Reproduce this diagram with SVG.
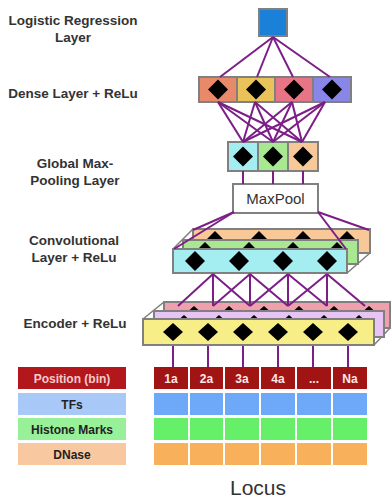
<svg xmlns="http://www.w3.org/2000/svg" width="392" height="498" viewBox="0 0 392 498">
  <style>
    .lbl { font-family: "Liberation Sans", Arial, sans-serif; font-weight: bold; font-size: 13.5px; fill: #333; text-anchor: middle; }
    .cell { stroke: #808080; stroke-width: 2; }
    .dia { fill: #000; }
    .wire { fill: #fff; stroke: #808080; stroke-width: 1.5; }
    .conn line { stroke: #7b1f87; stroke-width: 2; }
    .tag { font-family: "Liberation Sans", Arial, sans-serif; font-weight: bold; font-size: 12px; text-anchor: middle; }
  </style>
  <defs>
    <path id="d" d="M0,-10 L10,0 L0,10 L-10,0 Z"/>
    <path id="ds" d="M0,-9 L10,0 L0,9 L-10,0 Z"/>
  </defs>

  <rect width="392" height="498" fill="#fff"/>

  <!-- layer captions -->
  <g id="captions">
    <text class="lbl" x="73" y="25">Logistic Regression</text>
    <text class="lbl" x="73" y="42">Layer</text>
    <text class="lbl" x="73" y="98">Dense Layer + ReLu</text>
    <text class="lbl" x="75" y="168">Global Max-</text>
    <text class="lbl" x="75" y="185">Pooling Layer</text>
    <text class="lbl" x="74" y="245">Convolutional</text>
    <text class="lbl" x="74" y="262">Layer + ReLu</text>
    <text class="lbl" x="75" y="328">Encoder + ReLu</text>
  </g>

  <!-- output unit -->
  <g id="logistic">
    <rect class="cell" x="259" y="9" width="28" height="27" fill="#1a80d8"/>
  </g>

  <!-- dense layer -->
  <g id="dense">
    <rect class="cell" x="199" y="77" width="38" height="25" fill="#e8896a"/>
    <rect class="cell" x="237" y="77" width="38" height="25" fill="#e9c35a"/>
    <rect class="cell" x="275" y="77" width="38" height="25" fill="#e87585"/>
    <rect class="cell" x="313" y="77" width="38" height="25" fill="#8a86e8"/>
    <use href="#d" class="dia" x="218" y="89.5"/>
    <use href="#d" class="dia" x="256" y="89.5"/>
    <use href="#d" class="dia" x="294" y="89.5"/>
    <use href="#d" class="dia" x="332" y="89.5"/>
  </g>

  <!-- global max-pooling units -->
  <g id="pool">
    <rect class="cell" x="228" y="142" width="30" height="29" fill="#a4eef2"/>
    <rect class="cell" x="258" y="142" width="30" height="29" fill="#a8e890"/>
    <rect class="cell" x="288" y="142" width="30" height="29" fill="#f8c898"/>
    <use href="#d" class="dia" x="243" y="156.5"/>
    <use href="#d" class="dia" x="273" y="156.5"/>
    <use href="#d" class="dia" x="303" y="156.5"/>
  </g>

  <!-- max-pool operator -->
  <g id="maxpool">
    <rect class="cell" x="233" y="184" width="85" height="29" fill="#fff"/>
    <text x="275.5" y="204" font-family="Liberation Sans, Arial, sans-serif" font-size="15" fill="#333" text-anchor="middle">MaxPool</text>
  </g>

  <!-- convolutional stack (three filters, back to front) -->
  <g id="conv">
    <polygon class="wire" points="173,249 193,229 370,229 370,253 347,273 173,273"/>
    <rect class="cell" x="193" y="229" width="177" height="24" fill="#f8c898"/>
    <use href="#d" class="dia" x="215" y="241"/>
    <use href="#d" class="dia" x="259" y="241"/>
    <use href="#d" class="dia" x="303" y="241"/>
    <use href="#d" class="dia" x="347" y="241"/>
    <rect class="cell" x="183" y="240" width="175" height="24" fill="#a8e890"/>
    <use href="#d" class="dia" x="205" y="252"/>
    <use href="#d" class="dia" x="249" y="252"/>
    <use href="#d" class="dia" x="293" y="252"/>
    <use href="#d" class="dia" x="337" y="252"/>
    <rect class="cell" x="173" y="249" width="174" height="24" fill="#a4eef2"/>
    <use href="#d" class="dia" x="195" y="261"/>
    <use href="#d" class="dia" x="239" y="261"/>
    <use href="#d" class="dia" x="283" y="261"/>
    <use href="#d" class="dia" x="327" y="261"/>
  </g>

  <!-- encoder stack (three channels, back to front) -->
  <g id="encoder">
    <polygon class="wire" points="143,319 164,302 390,302 390,328 374,345 143,345"/>
    <rect class="cell" x="164" y="302" width="226" height="26" fill="#f0a0ac"/>
    <use href="#ds" class="dia" x="194" y="315"/>
    <use href="#ds" class="dia" x="229" y="315"/>
    <use href="#ds" class="dia" x="264" y="315"/>
    <use href="#ds" class="dia" x="299" y="315"/>
    <use href="#ds" class="dia" x="334" y="315"/>
    <use href="#ds" class="dia" x="369" y="315"/>
    <rect class="cell" x="154" y="311" width="230" height="26" fill="#e8c4f4"/>
    <use href="#ds" class="dia" x="184" y="324"/>
    <use href="#ds" class="dia" x="219" y="324"/>
    <use href="#ds" class="dia" x="254" y="324"/>
    <use href="#ds" class="dia" x="289" y="324"/>
    <use href="#ds" class="dia" x="324" y="324"/>
    <use href="#ds" class="dia" x="359" y="324"/>
    <rect class="cell" x="143" y="319" width="231" height="26" fill="#f8ee88"/>
    <use href="#ds" class="dia" x="173" y="332"/>
    <use href="#ds" class="dia" x="208" y="332"/>
    <use href="#ds" class="dia" x="243" y="332"/>
    <use href="#ds" class="dia" x="278" y="332"/>
    <use href="#ds" class="dia" x="313" y="332"/>
    <use href="#ds" class="dia" x="348" y="332"/>
  </g>

  <!-- connections between layers -->
  <g id="connectors" class="conn">
    <line x1="273" y1="37" x2="220" y2="77"/>
    <line x1="273" y1="37" x2="257" y2="77"/>
    <line x1="273" y1="37" x2="293" y2="77"/>
    <line x1="273" y1="37" x2="330" y2="77"/>

    <line x1="218" y1="102" x2="243" y2="142"/>
    <line x1="218" y1="102" x2="273" y2="142"/>
    <line x1="218" y1="102" x2="302" y2="142"/>
    <line x1="255" y1="102" x2="243" y2="142"/>
    <line x1="255" y1="102" x2="273" y2="142"/>
    <line x1="255" y1="102" x2="302" y2="142"/>
    <line x1="292" y1="102" x2="243" y2="142"/>
    <line x1="292" y1="102" x2="273" y2="142"/>
    <line x1="292" y1="102" x2="302" y2="142"/>
    <line x1="325" y1="102" x2="243" y2="142"/>
    <line x1="325" y1="102" x2="273" y2="142"/>
    <line x1="325" y1="102" x2="302" y2="142"/>

    <line x1="243" y1="171" x2="243" y2="184"/>
    <line x1="273" y1="171" x2="273" y2="184"/>
    <line x1="303" y1="171" x2="303" y2="184"/>

    <line x1="234" y1="212" x2="174" y2="249"/>
    <line x1="234" y1="212" x2="193" y2="230"/>
    <line x1="318" y1="212" x2="346" y2="249"/>
    <line x1="318" y1="212" x2="369" y2="230"/>

    <line x1="213" y1="274" x2="178" y2="306"/>
    <line x1="213" y1="274" x2="213" y2="306"/>
    <line x1="213" y1="274" x2="250" y2="306"/>
    <line x1="250" y1="274" x2="213" y2="306"/>
    <line x1="250" y1="274" x2="250" y2="306"/>
    <line x1="250" y1="274" x2="288" y2="306"/>
    <line x1="288" y1="274" x2="250" y2="306"/>
    <line x1="288" y1="274" x2="288" y2="306"/>
    <line x1="288" y1="274" x2="327" y2="306"/>
    <line x1="327" y1="274" x2="288" y2="306"/>
    <line x1="327" y1="274" x2="327" y2="306"/>
    <line x1="327" y1="274" x2="365" y2="306"/>

    <line x1="173" y1="346" x2="173" y2="367"/>
    <line x1="208" y1="346" x2="208" y2="367"/>
    <line x1="243" y1="346" x2="243" y2="367"/>
    <line x1="278" y1="346" x2="278" y2="367"/>
    <line x1="313" y1="346" x2="313" y2="367"/>
    <line x1="348" y1="346" x2="348" y2="367"/>
  </g>

  <!-- input feature legend -->
  <g id="legend">
    <rect x="18" y="367" width="108" height="22" fill="#b3161b"/>
    <rect x="18" y="393" width="108" height="22" fill="#a8c8f8"/>
    <rect x="18" y="418" width="108" height="22" fill="#98f098"/>
    <rect x="18" y="443" width="108" height="22" fill="#f8c8a0"/>
    <text class="tag" x="72" y="382.5" fill="#f3cccc">Position (bin)</text>
    <text class="tag" x="72" y="408.5" fill="#222">TFs</text>
    <text class="tag" x="72" y="433.5" fill="#222">Histone Marks</text>
    <text class="tag" x="72" y="458.5" fill="#222">DNase</text>
  </g>

  <!-- locus bins and their feature tracks -->
  <g id="locus">
    <g fill="#a01414">
      <rect x="154" y="367" width="34" height="22"/>
      <rect x="190" y="367" width="33" height="22"/>
      <rect x="225" y="367" width="34" height="22"/>
      <rect x="261" y="367" width="34" height="22"/>
      <rect x="297" y="367" width="34" height="22"/>
      <rect x="333" y="367" width="34" height="22"/>
    </g>
    <g fill="#6ea8f8">
      <rect x="154" y="393" width="34" height="22"/>
      <rect x="190" y="393" width="33" height="22"/>
      <rect x="225" y="393" width="34" height="22"/>
      <rect x="261" y="393" width="34" height="22"/>
      <rect x="297" y="393" width="34" height="22"/>
      <rect x="333" y="393" width="34" height="22"/>
    </g>
    <g fill="#66f06a">
      <rect x="154" y="418" width="34" height="22"/>
      <rect x="190" y="418" width="33" height="22"/>
      <rect x="225" y="418" width="34" height="22"/>
      <rect x="261" y="418" width="34" height="22"/>
      <rect x="297" y="418" width="34" height="22"/>
      <rect x="333" y="418" width="34" height="22"/>
    </g>
    <g fill="#f8b05a">
      <rect x="154" y="443" width="34" height="22"/>
      <rect x="190" y="443" width="33" height="22"/>
      <rect x="225" y="443" width="34" height="22"/>
      <rect x="261" y="443" width="34" height="22"/>
      <rect x="297" y="443" width="34" height="22"/>
      <rect x="333" y="443" width="34" height="22"/>
    </g>
    <g class="tag" fill="#fbe8e8">
      <text x="171" y="382.5">1a</text>
      <text x="206.5" y="382.5">2a</text>
      <text x="242" y="382.5">3a</text>
      <text x="278" y="382.5">4a</text>
      <text x="314" y="382.5">...</text>
      <text x="350" y="382.5">Na</text>
    </g>
    <text x="258" y="495" font-family="Liberation Sans, Arial, sans-serif" font-size="21" fill="#333" text-anchor="middle">Locus</text>
  </g>
</svg>
